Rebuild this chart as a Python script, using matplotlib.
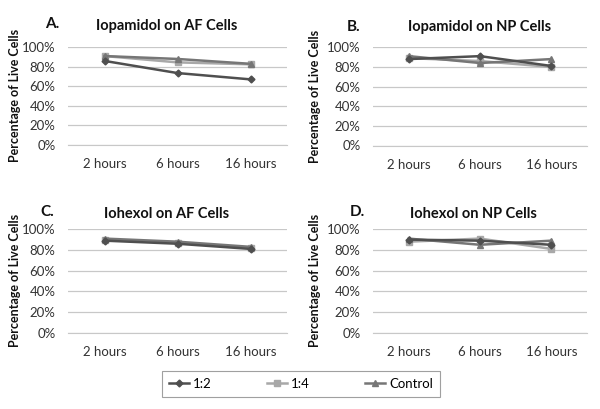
import matplotlib
matplotlib.use("Agg")
import matplotlib.pyplot as plt
from matplotlib.lines import Line2D

plt.rcParams['font.family'] = ['Lato', 'DejaVu Sans']

categories = ["2 hours", "6 hours", "16 hours"]
yticks = [0, 20, 40, 60, 80, 100]
series_names = ["1:2", "1:4", "Control"]

a_12 = [86, 73.5, 67]
a_14 = [91, 84.5, 82.5]
a_ctrl = [91, 88, 83]

b_12 = [88, 91, 81]
b_14 = [89, 86, 80]
b_ctrl = [91, 84, 88]

c_12 = [89, 86, 81]
c_14 = [90, 87, 82]
c_ctrl = [91, 88, 83]

d_12 = [90, 89, 85]
d_14 = [88, 91, 81]
d_ctrl = [91, 85, 89]

panels = [
    ("A.", "Iopamidol on AF Cells", [a_12, a_14, a_ctrl]),
    ("B.", "Iopamidol on NP Cells", [b_12, b_14, b_ctrl]),
    ("C.", "Iohexol on AF Cells", [c_12, c_14, c_ctrl]),
    ("D.", "Iohexol on NP Cells", [d_12, d_14, d_ctrl]),
]

colors = ["#4f4f4f", "#a8a8a8", "#767676"]
markers = ["D", "s", "^"]
msizes = [3.5, 5, 5]

W, H = 600, 409
fig = plt.figure(figsize=(6, 4.09), dpi=100)

# axes rects in pixel coords: (left, top, right, bottom)
rects = [
    (68, 47.3, 287, 144.5),
    (373, 47.3, 587, 145.5),
    (68, 229.3, 287, 332.5),
    (373, 229.3, 587, 332.5),
]
letter_pos = [(52, 24), (354, 27), (47, 212), (357, 212)]
title_pos = [(167, 26), (480, 27), (167, 214), (473, 214)]
ylabel_x = [15, 315, 15, 315]

for i, (letter, title, data) in enumerate(panels):
    l, t, r, b = rects[i]
    ax = fig.add_axes([l / W, 1 - b / H, (r - l) / W, (b - t) / H])
    x = list(range(len(categories)))
    for s, vals in enumerate(data):
        ax.plot(x, vals, color=colors[s], marker=markers[s], markersize=msizes[s],
                linewidth=1.8, zorder=3 + (s == 0))
    ax.set_xlim(-0.5, 2.5)
    ax.set_ylim(0, 100)
    ax.set_yticks(yticks)
    ax.set_yticklabels([f"{v}%" for v in yticks], fontsize=9.5, color="#333333")
    ax.set_xticks(x)
    ax.set_xticklabels(categories, fontsize=9.5, color="#333333")
    ax.tick_params(axis='x', length=0, pad=10)
    ax.tick_params(axis='y', length=0, pad=9)
    ax.grid(axis='y', color="#c8c8c8", linewidth=0.9)
    ax.set_axisbelow(True)
    for sp in ["top", "right", "left"]:
        ax.spines[sp].set_visible(False)
    ax.spines["bottom"].set_color("#c8c8c8")
    fig.text(letter_pos[i][0] / W, 1 - letter_pos[i][1] / H, letter, fontsize=11,
             fontweight='bold', ha='center', va='center', color="#111111")
    fig.text(title_pos[i][0] / W, 1 - title_pos[i][1] / H, title, fontsize=10.5,
             fontweight='bold', ha='center', va='center', color="#111111")
    yc = (t + b) / 2
    fig.text(ylabel_x[i] / W, 1 - yc / H, "Percentage of Live Cells", fontsize=9,
             fontweight='bold', rotation=90, ha='center', va='center', color="#111111")

handles = [Line2D([0], [0], color=colors[s], marker=markers[s], markersize=msizes[s],
                  linewidth=1.8) for s in range(3)]
leg = fig.legend(handles, series_names, loc='center',
                 bbox_to_anchor=(301 / W, 1 - 384 / H), ncol=3, fontsize=9.5,
                 frameon=True, fancybox=False, edgecolor="#888888",
                 handlelength=1.5, columnspacing=4.2, handletextpad=0.3,
                 borderpad=0.55, borderaxespad=0)
leg.get_frame().set_linewidth(0.8)

fig.savefig("out.png", dpi=100, facecolor="white")
